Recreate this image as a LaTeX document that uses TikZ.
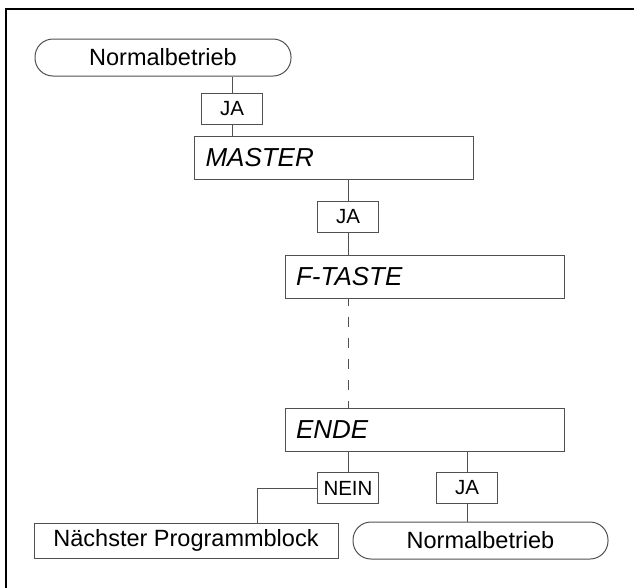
\documentclass[tikz,border=0pt]{standalone}
\usepackage{fontspec}
\setmainfont{Liberation Sans}
\definecolor{linegray}{HTML}{505050}
\tikzset{pill/.style = {shape=rectangle,draw=linegray,rounded corners=18pt,minimum width=256pt,minimum height=37pt,inner sep=0pt,font=\fontsize{23.5}{28}\selectfont}}
\tikzset{block/.style = {shape=rectangle,draw=linegray,text width=257pt,inner xsep=11pt,align=left,minimum height=43pt,font=\fontsize{26}{30}\selectfont\itshape}}
\tikzset{tag/.style = {shape=rectangle,draw=linegray,minimum width=61pt,minimum height=31pt,inner sep=0pt,font=\fontsize{20.5}{24}\selectfont}}
\tikzset{plain/.style = {shape=rectangle,draw=linegray,minimum width=304pt,minimum height=35pt,inner sep=0pt,font=\fontsize{23.5}{28}\selectfont}}
\tikzset{link/.style = {draw=linegray,line width=1pt}}

\begin{document}
\begin{tikzpicture}[x=1pt,y=-1pt,line width=1pt]
          \useasboundingbox (0,0) rectangle (634,587);
          \draw[line width=1.6pt] (640,9) -- (6,9) -- (6,595);

          \node[pill]  (start)  at (163,57.5)    {Normalbetrieb};
          \node[tag]   (ja1)    at (232,108.5)   {JA};
          \node[block] (master) at (334,157.5)   {MASTER};
          \node[tag]   (ja2)    at (348,216.5)   {JA};
          \node[block] (ftaste) at (424.5,276.5) {F-TASTE};
          \node[block] (ende)   at (424.5,429.5) {ENDE};
          \node[tag]   (nein)   at (348,488)     {NEIN};
          \node[tag]   (ja3)    at (467,488)     {JA};
          \node[plain] (next)   at (186,540.5)   {Nächster Programmblock};
          \node[pill,minimum width=255pt] (stop) at (480.5,540.5) {Normalbetrieb};
          \coordinate (bend) at (257,488);

          \draw[link] (ja1 |- start.south) -- (ja1) -- (ja1 |- master.north);
          \draw[link] (ja2 |- master.south) -- (ja2) -- (ja2 |- ftaste.north);
          \draw[link,dash pattern=on 10pt off 11pt,dash phase=3pt] (ja2 |- ftaste.south) -- (ja2 |- ende.north);
          \draw[link] (nein |- ende.south) -- (nein) -- (bend) -- (bend |- next.north);
          \draw[link] (ja3 |- ende.south) -- (ja3) -- (ja3 |- stop.north);
        \end{tikzpicture}
\end{document}
